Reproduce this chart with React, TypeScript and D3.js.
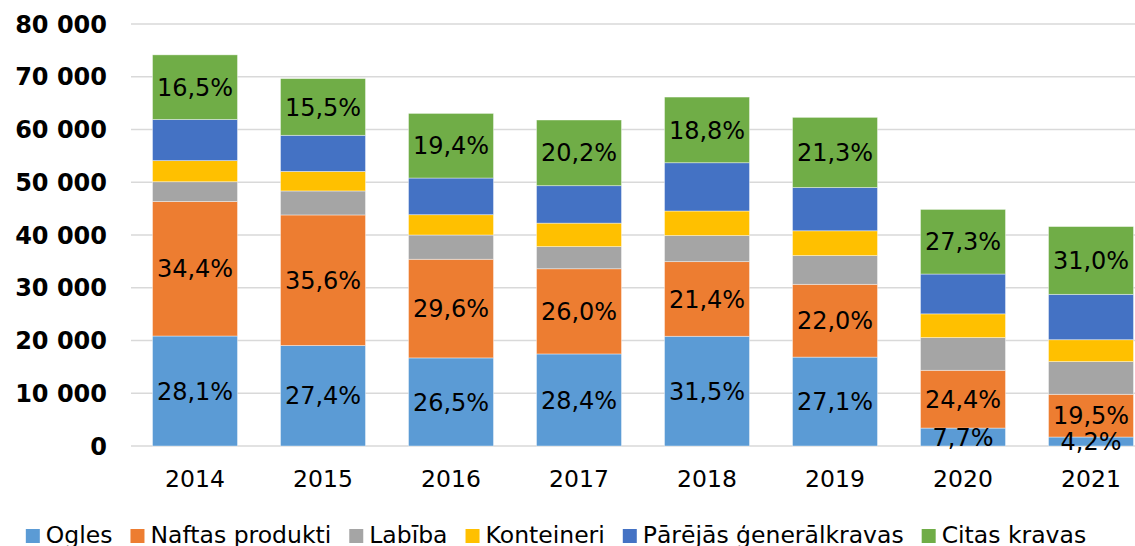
import { useEffect, useRef } from "react";
import * as d3 from "d3";

const years = ["2014", "2015", "2016", "2017", "2018", "2019", "2020", "2021"];

const seriesNames = ["Ogles", "Naftas produkti", "Labība", "Konteineri", "Pārējās ģenerālkravas", "Citas kravas"];
const seriesColors = ["#5B9BD5", "#ED7D31", "#A5A5A5", "#FFC000", "#4472C4", "#70AD47"];

const ogles = [20850, 19050, 16700, 17450, 20800, 16850, 3400, 1700];
const naftas = [25500, 24750, 18700, 16150, 14150, 13800, 10950, 8100];
const labiba = [3750, 4550, 4600, 4200, 4950, 5450, 6200, 6200];
const konteineri = [4000, 3700, 3850, 4450, 4650, 4700, 4500, 4150];
const parejas = [7800, 6850, 6950, 7100, 9150, 8200, 7550, 8600];
const citas = [12250, 10750, 12250, 12450, 12450, 13300, 12250, 12850];

// labels shown inside bars (only for three series)
const oglesLabels = ["28,1%", "27,4%", "26,5%", "28,4%", "31,5%", "27,1%", "7,7%", "4,2%"];
const naftasLabels = ["34,4%", "35,6%", "29,6%", "26,0%", "21,4%", "22,0%", "24,4%", "19,5%"];
const citasLabels = ["16,5%", "15,5%", "19,4%", "20,2%", "18,8%", "21,3%", "27,3%", "31,0%"];

const yTicks = [0, 10000, 20000, 30000, 40000, 50000, 60000, 70000, 80000];

const App = () => {
  const ref = useRef<SVGSVGElement>(null);

  useEffect(() => {
    const width = 1135, height = 546;
    const font = "'DejaVu Sans', Verdana, sans-serif";

    const svg = d3.select(ref.current)
      .html("")
      .attr("width", width)
      .attr("height", height);

    const values = [ogles, naftas, labiba, konteineri, parejas, citas];
    const rows = years.map((y, i) => {
      const r: any = { year: y };
      seriesNames.forEach((s, k) => { r[s] = values[k][i]; });
      return r;
    });

    const layers = d3.stack().keys(seriesNames)(rows);

    const x = d3.scaleBand()
      .domain(years)
      .range([131, 1155])
      .paddingInner(0.336)
      .paddingOuter(0.168);

    const y = d3.scaleLinear()
      .domain([0, 80000])
      .range([446, 24]);

    // gridlines
    svg.append("g")
      .selectAll("line")
      .data(yTicks)
      .enter()
      .append("line")
      .attr("x1", 131)
      .attr("x2", width)
      .attr("y1", d => y(d))
      .attr("y2", d => y(d))
      .attr("stroke", "#d9d9d9")
      .attr("stroke-width", 1.5);

    // y tick labels
    const fmt = (d: number) => d3.format(",")(d).replace(/,/g, " ");
    svg.append("g")
      .selectAll("text")
      .data(yTicks)
      .enter()
      .append("text")
      .attr("x", 107)
      .attr("y", d => y(d))
      .attr("dy", "0.36em")
      .attr("text-anchor", "end")
      .style("font-family", font)
      .style("font-size", "24px")
      .style("font-weight", "bold")
      .text(d => fmt(d));

    // bars
    svg.append("g")
      .selectAll("g")
      .data(layers)
      .enter()
      .append("g")
      .attr("fill", (d, i) => seriesColors[i])
      .selectAll("rect")
      .data(d => d)
      .enter()
      .append("rect")
      .attr("x", (d: any) => x(d.data.year)!)
      .attr("width", x.bandwidth())
      .attr("y", d => y(d[1]))
      .attr("height", d => y(d[0]) - y(d[1]))
      .attr("stroke", "#ffffff")
      .attr("stroke-opacity", 0.5)
      .attr("stroke-width", 0.8);

    // data labels
    const labelSets: [number, string[]][] = [[0, oglesLabels], [1, naftasLabels], [5, citasLabels]];
    labelSets.forEach(([k, labels]) => {
      svg.append("g")
        .selectAll("text")
        .data(layers[k])
        .enter()
        .append("text")
        .attr("x", (d: any) => x(d.data.year)! + x.bandwidth() / 2)
        .attr("y", d => y((d[0] + d[1]) / 2))
        .attr("dy", "0.36em")
        .attr("text-anchor", "middle")
        .style("font-family", font)
        .style("font-size", "24px")
        .attr("fill", "#000")
        .text((d, i) => labels[i]);
    });

    // x labels
    svg.append("g")
      .selectAll("text")
      .data(years)
      .enter()
      .append("text")
      .attr("x", d => x(d)! + x.bandwidth() / 2)
      .attr("y", 486.5)
      .attr("text-anchor", "middle")
      .style("font-family", font)
      .style("font-size", "23.5px")
      .attr("fill", "#000")
      .text(d => d);

    // legend
    const legend = svg.append("g");
    let cx = 0;
    const gap = 18;
    seriesNames.forEach((s, i) => {
      const item = legend.append("g").attr("transform", `translate(${cx},0)`);
      item.append("rect")
        .attr("x", 0)
        .attr("y", 529)
        .attr("width", 14)
        .attr("height", 14)
        .attr("fill", seriesColors[i]);
      const t = item.append("text")
        .attr("x", 20)
        .attr("y", 543)
        .style("font-family", font)
        .style("font-size", "23.5px")
        .attr("fill", "#000")
        .text(s);
      const w = (t.node() as SVGTextElement).getComputedTextLength();
      cx += 20 + w + gap;
    });
    const total = cx - gap;
    legend.attr("transform", `translate(${556 - total / 2},0)`);
  }, []);

  return (
    <div style={{ position: "absolute", left: 0, top: 0 }}>
      <svg ref={ref}></svg>
    </div>
  );
};

export default App;
